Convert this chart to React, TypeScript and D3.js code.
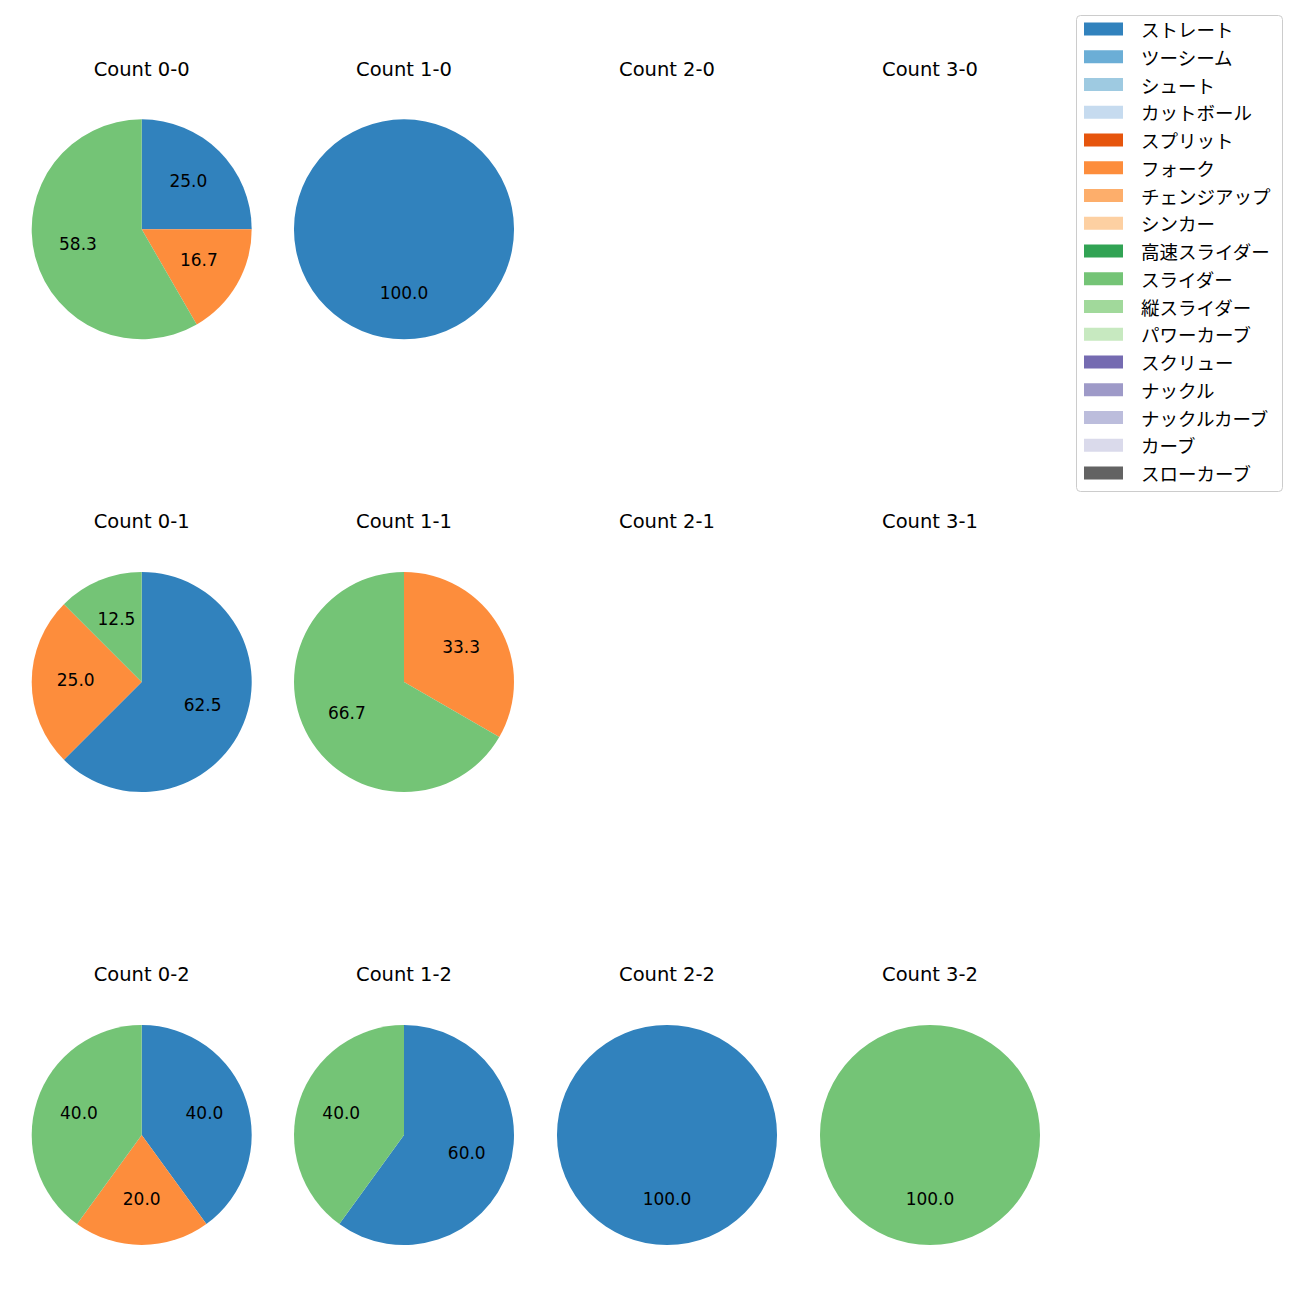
import React from "react";
import * as d3 from "d3";

const pitchTypes = ["ストレート","ツーシーム","シュート","カットボール","スプリット","フォーク","チェンジアップ","シンカー","高速スライダー","スライダー","縦スライダー","パワーカーブ","スクリュー","ナックル","ナックルカーブ","カーブ","スローカーブ"];
const pitchColors = ["#3182bd","#6baed6","#9ecae1","#c6dbef","#e6550d","#fd8d3c","#fdae6b","#fdd0a2","#31a354","#74c476","#a1d99b","#c7e9c0","#756bb1","#9e9ac8","#bcbddc","#dadaeb","#636363"];

const countTitles = ["Count 0-0","Count 1-0","Count 2-0","Count 3-0","Count 0-1","Count 1-1","Count 2-1","Count 3-1","Count 0-2","Count 1-2","Count 2-2","Count 3-2"];
// per count: pitch counts for ストレート, フォーク, スライダー
const countStraight = [3, 1, 0, 0, 5, 0, 0, 0, 2, 3, 1, 0];
const countFork =     [2, 0, 0, 0, 2, 1, 0, 0, 1, 0, 0, 0];
const countSlider =   [7, 0, 0, 0, 1, 2, 0, 0, 2, 2, 0, 1];

const LATIN = "'DejaVu Sans', sans-serif";
const JP = "'Noto Sans CJK JP', 'Noto Sans', sans-serif";

export default function App() {
  const colX = [141.7, 404, 667, 930];
  const rowY = [229.3, 682, 1135];
  const r = 110;
  const color = d3.scaleOrdinal<string, string>().domain(pitchTypes).range(pitchColors);
  const pie = d3.pie<{ name: string; v: number }>().value(d => d.v).sort(null).startAngle(0).endAngle(2 * Math.PI);
  const arc = d3.arc<d3.PieArcDatum<{ name: string; v: number }>>().innerRadius(0).outerRadius(r);

  const cells = countTitles.map((t, i) => {
    const data = [
      { name: "ストレート", v: countStraight[i] },
      { name: "フォーク", v: countFork[i] },
      { name: "スライダー", v: countSlider[i] },
    ].filter(d => d.v > 0);
    const total = d3.sum(data, d => d.v);
    const cx = colX[i % 4];
    const cy = rowY[Math.floor(i / 4)];
    const arcs = total > 0 ? pie(data) : [];
    return (
      <g key={t}>
        <text x={cx} y={cy - 153.6} textAnchor="middle" fontSize={19.5} fontFamily={LATIN} fill="#000">{t}</text>
        <g transform={`translate(${cx},${cy})`}>
          {arcs.map(a => (
            <path key={a.data.name} d={arc(a) || ""} fill={color(a.data.name)} />
          ))}
          {arcs.map(a => {
            const mid = (a.startAngle + a.endAngle) / 2;
            const lx = Math.sin(mid) * r * 0.6;
            const ly = -Math.cos(mid) * r * 0.6;
            return (
              <text key={a.data.name + "l"} x={lx} y={ly + 3.9} textAnchor="middle" fontSize={17} fontFamily={LATIN} fill="#000">
                {((a.data.v / total) * 100).toFixed(1)}
              </text>
            );
          })}
        </g>
      </g>
    );
  });

  const legendY0 = 29;
  const legendStep = 27.75;
  return (
    <svg width={1300} height={1300} style={{ display: "block", margin: -8 }}>
      <rect x={0} y={0} width={1300} height={1300} fill="#fff" />
      {cells}
      <rect x={1076.5} y={15.5} width={206} height={476} rx={4} fill="#fff" stroke="#cccccc" strokeWidth={1} />
      {pitchTypes.map((p, i) => (
        <g key={p}>
          <rect x={1084} y={legendY0 + i * legendStep - 6.5} width={39} height={13} fill={color(p)} />
          <text x={1141} y={legendY0 + i * legendStep} dominantBaseline="central" fontSize={18.5} fontFamily={JP} fill="#000">{p}</text>
        </g>
      ))}
    </svg>
  );
}
